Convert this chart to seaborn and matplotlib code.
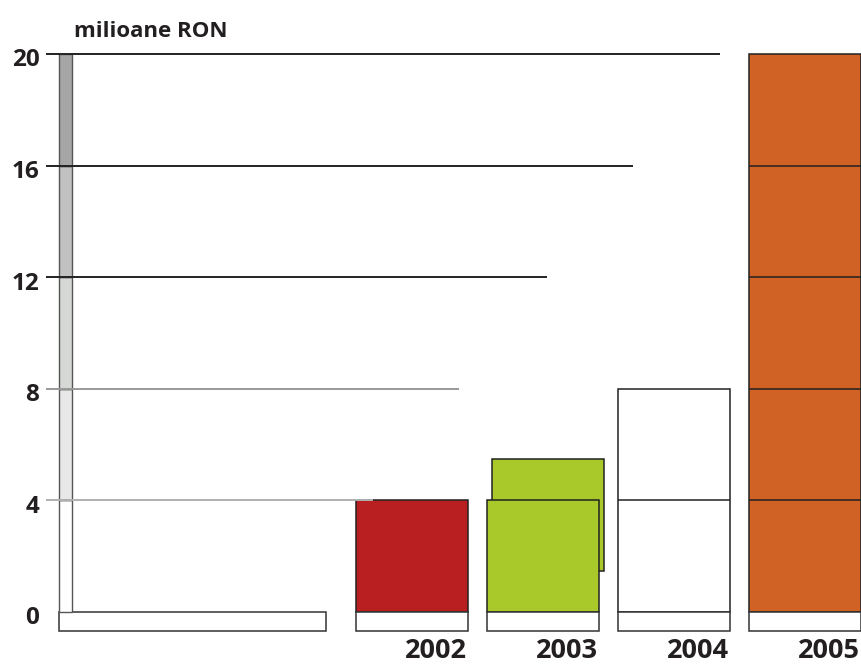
import matplotlib
matplotlib.use("Agg")
import matplotlib.pyplot as plt
import seaborn as sns
import pandas as pd

# ---- data ----
years = ["2002", "2003", "2004", "2005"]
values = [4.0, 4.0, 8.0, 20.0]
bar_colors = ["#b91f20", "#a9c92a", "#ffffff", "#d06226"]
shadow_2003_bottom = 1.47   # the offset green box behind 2003
shadow_2003_height = 4.0
yticks = [0, 4, 8, 12, 16, 20]
scale_colors = ["#ffffff", "#e8e8e8", "#d6d8d6", "#c0c1c0", "#a6a6a6"]  # 0-4,4-8,...
grid_colors = ["#b0b0b0", "#999999", "#222222", "#222222", "#222222"]    # lines at 4..20
grid_ends = [-0.30, 0.36, 1.03, 1.69, 2.35]
ylabel = "milioane RON"

sns.set_theme(style="white")
plt.rcParams["font.family"] = ["Open Sans", "DejaVu Sans"]

fig = plt.figure(figsize=(8.62, 6.65), dpi=100)
ax = fig.add_axes([0, 0, 1, 1])

df = pd.DataFrame({"year": years, "value": values})
W = 0.855
BASE = 0.68
EDGE = "#222222"

# shadow box for 2003 (behind)
ax.bar(1 + 0.038, shadow_2003_height, bottom=shadow_2003_bottom, width=W,
       color=bar_colors[1], edgecolor=EDGE, linewidth=1.1, zorder=0.5)

sns.barplot(data=df, x="year", y="value", hue="year",
            palette=dict(zip(years, bar_colors)), width=W, errorbar=None,
            edgecolor=EDGE, linewidth=1.1, legend=False, ax=ax, zorder=1,
            saturation=1)

# base boxes under each bar
for i in range(len(years)):
    ax.bar(i, BASE, bottom=-BASE, width=W, color="white",
           edgecolor="#333333", linewidth=1.1, zorder=1)
    # internal segment lines
    for t in yticks[1:]:
        if t < values[i]:
            ax.hlines(t, i - W / 2, i + W / 2, color=EDGE, linewidth=1.1, zorder=2)

# left scale bar
sx = -2.645
sw = 0.099
ax.bar(-2.695 + 2.038 / 2, BASE, bottom=-BASE, width=2.038, color="white",
       edgecolor="#333333", linewidth=1.1, zorder=1)
for k in range(len(yticks) - 1):
    ax.bar(sx, yticks[k + 1] - yticks[k], bottom=yticks[k], width=sw,
           color=scale_colors[k], edgecolor="#555555", linewidth=1.0, zorder=2)

# horizontal lines
for t, c, e in zip(yticks[1:], grid_colors, grid_ends):
    ax.hlines(t, -2.794, e, color=c, linewidth=1.4, zorder=3)

# tick labels
for t in yticks:
    ax.text(-2.845, t - 0.12, str(t), ha="right", va="center_baseline",
            fontsize=17.5, fontweight="bold", color="#231f20")

for i, y in enumerate(years):
    ax.text(i + W / 2 - 0.01, -1.64, y, ha="right", va="baseline",
            fontsize=19.5, fontweight="bold", color="#231f20")

ax.text(-2.58, 20.61, ylabel, ha="left", va="baseline",
        fontsize=16, fontweight="bold", color="#231f20")

ax.set_xlim(-3.145, 3.435)
ax.set_ylim(-1.900, 21.935)
ax.set_axis_off()

fig.savefig("out.png", dpi=100)
